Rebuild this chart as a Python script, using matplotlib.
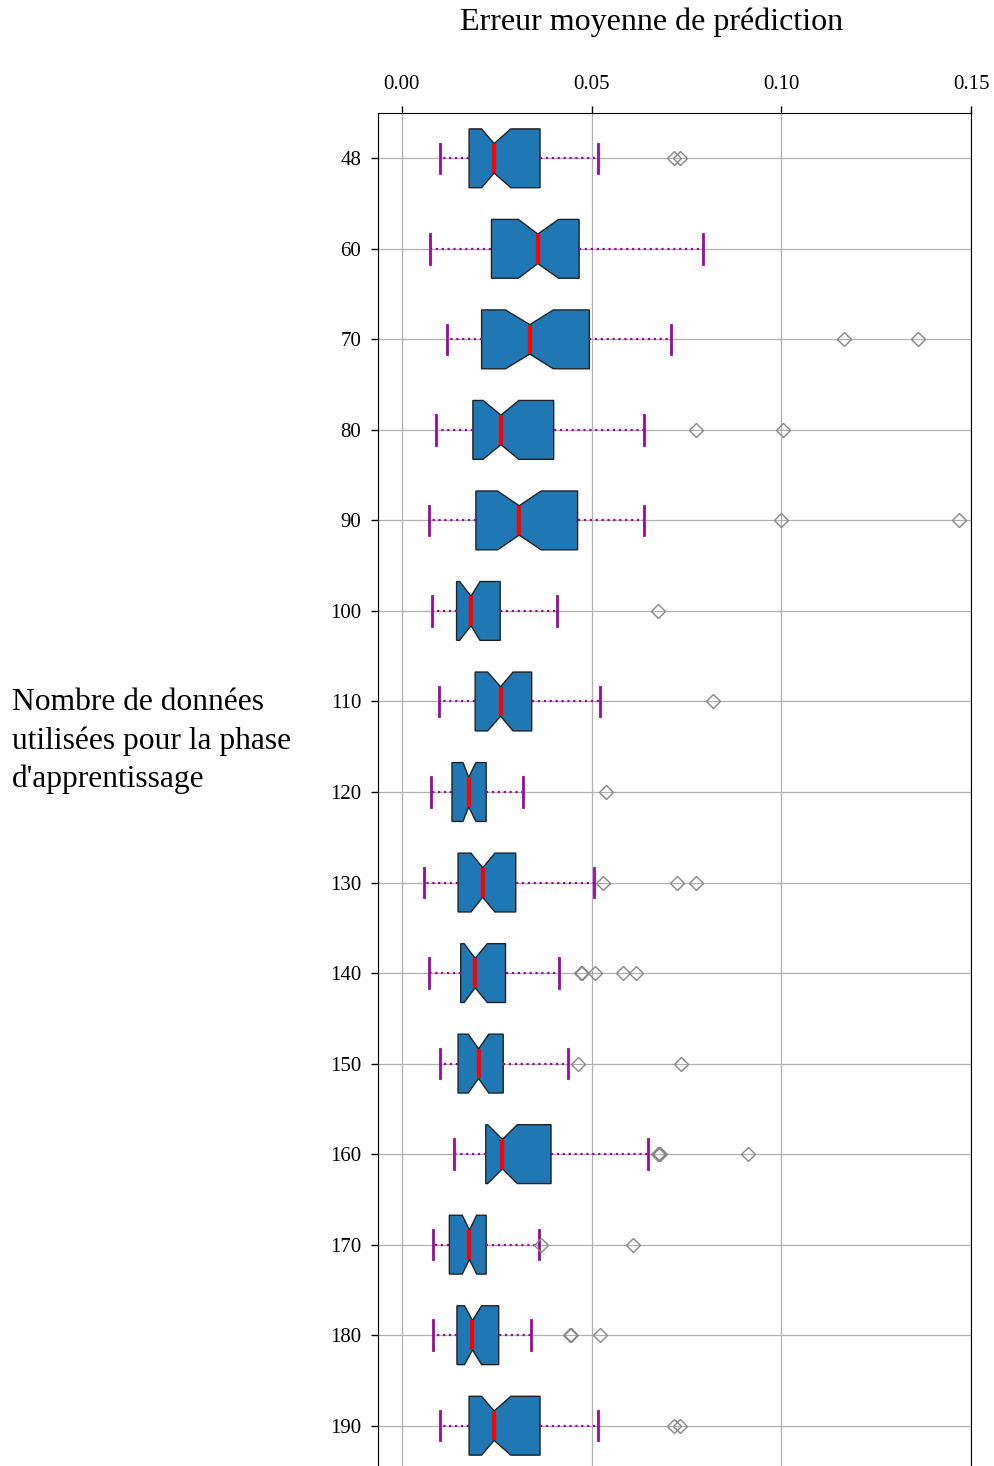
import matplotlib
matplotlib.use('Agg')
import matplotlib.pyplot as plt

plt.rcParams['font.family'] = ['Liberation Serif', 'DejaVu Serif']

# Nombre de données d'apprentissage
sizes = ['48', '60', '70', '80', '90', '100', '110', '120', '130', '140',
         '150', '160', '170', '180', '190']

# Statistiques des boîtes
whislo = [0.0100, 0.0075, 0.0119, 0.0090, 0.0071, 0.0078, 0.0098, 0.0076,
          0.0057, 0.0071, 0.0100, 0.0138, 0.0081, 0.0081, 0.0100]
q1 = [0.0177, 0.0236, 0.0210, 0.0187, 0.0195, 0.0144, 0.0193, 0.0132,
      0.0148, 0.0155, 0.0148, 0.0221, 0.0125, 0.0145, 0.0177]
med = [0.0243, 0.0358, 0.0337, 0.0261, 0.0309, 0.0182, 0.0260, 0.0176,
       0.0213, 0.0193, 0.0202, 0.0265, 0.0178, 0.0186, 0.0243]
q3 = [0.0364, 0.0467, 0.0494, 0.0400, 0.0463, 0.0259, 0.0342, 0.0222,
      0.0300, 0.0273, 0.0267, 0.0393, 0.0222, 0.0255, 0.0364]
whishi = [0.0516, 0.0793, 0.0708, 0.0639, 0.0637, 0.0410, 0.0522, 0.0320,
          0.0506, 0.0414, 0.0439, 0.0648, 0.0362, 0.0339, 0.0516]
cilo = [0.0210, 0.0307, 0.0273, 0.0214, 0.0252, 0.0152, 0.0226, 0.0161,
        0.0182, 0.0164, 0.0175, 0.0226, 0.0159, 0.0165, 0.0210]
cihi = [0.0287, 0.0413, 0.0399, 0.0308, 0.0367, 0.0206, 0.0293, 0.0195,
        0.0245, 0.0225, 0.0229, 0.0304, 0.0197, 0.0210, 0.0287]
fliers = [
    [0.0716, 0.0734],
    [],
    [0.1164, 0.1361],
    [0.0775, 0.1004],
    [0.0998, 0.1468],
    [0.0674],
    [0.0821],
    [0.0538],
    [0.0529, 0.0726, 0.0776],
    [0.0472, 0.0474, 0.0509, 0.0584, 0.0616],
    [0.0464, 0.0735],
    [0.0675, 0.0678, 0.0680, 0.0913],
    [0.0366, 0.0610],
    [0.0443, 0.0445, 0.0521],
    [0.0716, 0.0734],
]

stats = []
for i, lab in enumerate(sizes):
    stats.append(dict(label=lab, whislo=whislo[i], q1=q1[i], med=med[i],
                      q3=q3[i], whishi=whishi[i], cilo=cilo[i], cihi=cihi[i],
                      fliers=fliers[i]))

fig = plt.figure(figsize=(9.94, 14.66), dpi=100)
ax = fig.add_axes([0.3803, -0.0034, 0.5966, 0.9263])

ax.bxp(stats, positions=range(1, len(sizes) + 1), widths=0.65,
       orientation='horizontal', shownotches=True, patch_artist=True,
       boxprops=dict(facecolor='#1f77b4', edgecolor='#222222', linewidth=1),
       medianprops=dict(color='red', linewidth=3),
       whiskerprops=dict(color='#9b0a9b', linestyle=':', linewidth=1.6),
       capprops=dict(color='#9b0a9b', linewidth=2),
       flierprops=dict(marker='D', markerfacecolor='none',
                       markeredgecolor='#888888', markersize=7.5,
                       markeredgewidth=1),
       zorder=3)

ax.set_xlim(-0.0063, 0.15)
ax.set_ylim(len(sizes) + 0.5, 0.5)
ax.set_xticks([0.0, 0.05, 0.10, 0.15])
ax.set_xticklabels(['0.00', '0.05', '0.10', '0.15'])
ax.set_yticks(range(1, len(sizes) + 1))
ax.set_yticklabels(sizes)
ax.xaxis.tick_top()
ax.xaxis.set_label_position('top')
ax.tick_params(axis='both', labelsize=15, length=5, width=1)
ax.tick_params(axis='x', pad=9)
ax.tick_params(axis='y', pad=7)
ax.grid(True, color='#b0b0b0', linewidth=0.9, zorder=0)
ax.set_axisbelow(True)
ax.spines['bottom'].set_visible(False)

ax.set_xlabel('Erreur moyenne de prédiction', fontsize=23, labelpad=32, x=0.461)

fig.text(12 / 994, 1 - 741 / 1466,
         "Nombre de données\nutilisées pour la phase\nd'apprentissage",
         fontsize=22.7, ha='left', va='center', multialignment='left',
         linespacing=1.4)

fig.savefig('out.png', dpi=100)
